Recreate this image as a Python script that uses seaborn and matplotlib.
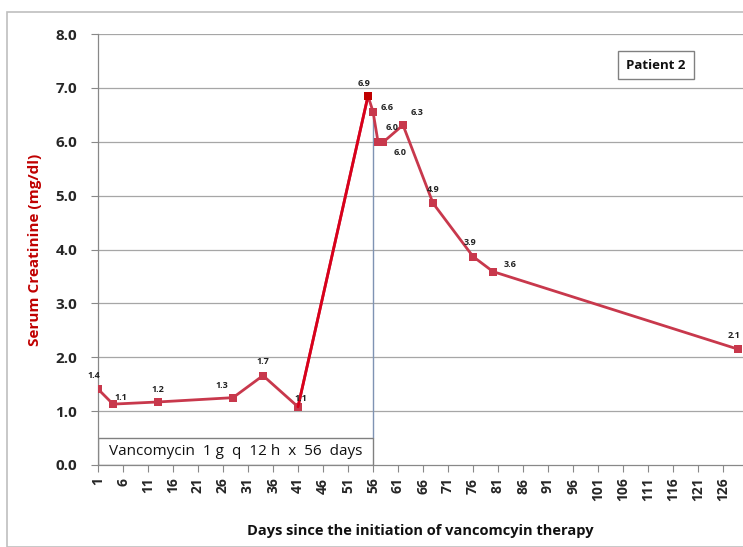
import matplotlib
matplotlib.use("Agg")
import matplotlib.pyplot as plt
import seaborn as sns
import pandas as pd
from matplotlib.patches import Rectangle

# data
days = [1, 4, 13, 28, 34, 41, 55, 56, 57, 58, 62, 68, 76, 80, 129]
creatinine = [1.41, 1.13, 1.17, 1.25, 1.66, 1.08, 6.85, 6.56, 6.0, 5.99, 6.31, 4.86, 3.87, 3.59, 2.15]
point_labels = ["1.4", "1.1", "1.2", "1.3", "1.7", "1.1", "6.9", "6.6", "6.0", "6.0",
                "6.3", "4.9", "3.9", "3.6", "2.1"]
# label offsets in points (dx, dy)
label_offsets = [(-3, 10), (6, 5), (0, 9), (-8, 9), (0, 10), (2, 6), (-3, 9), (10, 3),
                 (10, 10), (12, -7), (10, 9), (0, 10), (-2, 10), (12, 5), (-3, 10)]
x_ticks = list(range(1, 127, 5))
y_ticks = [0, 1, 2, 3, 4, 5, 6, 7, 8]
therapy_end = 56

df = pd.DataFrame({"day": days, "scr": creatinine})

sns.set_theme(style="white")
plt.rcParams["font.family"] = ["Open Sans", "DejaVu Sans"]

fig = plt.figure(figsize=(7.43, 5.47), dpi=100)
ax = fig.add_axes([98 / 743, 1 - 465 / 547, 1 - 98 / 743, (465 - 34) / 547])

# outer frame of the figure
fig.patches.append(Rectangle((7 / 743, 0.0), 1.0, 1 - 12 / 547, transform=fig.transFigure,
                             fill=False, edgecolor="#bfbfbf", linewidth=1.2, zorder=-1))

for yv in y_ticks[1:]:
    ax.axhline(yv, color="#a6a6a6", linewidth=0.9, zorder=0)

line_col = "#c8384c"
sns.lineplot(data=df, x="day", y="scr", ax=ax, color=line_col, linewidth=2,
             marker="s", markersize=6, markeredgewidth=0, markerfacecolor=line_col, zorder=3)
# steep rise drawn in brighter red
rise = df.iloc[5:7]
sns.lineplot(data=rise, x="day", y="scr", ax=ax, color="#d9001b", linewidth=2, zorder=4)
ax.plot(df.day.iloc[6], df.scr.iloc[6], marker="s", markersize=6, color="#c00000",
        markeredgewidth=0, zorder=5)

for d, v, t, (dx, dy) in zip(days, creatinine, point_labels, label_offsets):
    ax.annotate(t, (d, v), xytext=(dx, dy), textcoords="offset points", ha="center",
                va="center", fontsize=6.5, fontweight="bold", color="#222222", zorder=6)

# end of therapy marker
ax.plot([therapy_end, therapy_end], [0.5, 6.45], color="#7f93b3", linewidth=1, zorder=2)
ax.add_patch(Rectangle((1, 0), therapy_end - 1, 0.5, fill=True, facecolor="white",
                       edgecolor="#808080", linewidth=1, zorder=2))
ax.text((1 + therapy_end) / 2, 0.25, "Vancomycin  1 g  q  12 h  x  56  days", ha="center",
        va="center", fontsize=11, color="#111111", zorder=3)

ax.text(0.865, 0.928, "Patient 2", transform=ax.transAxes, ha="center", va="center",
        fontsize=9.5, fontweight="bold", color="#111111",
        bbox=dict(boxstyle="square,pad=0.6", facecolor="white", edgecolor="#808080", linewidth=1))

ax.set_xlim(1, 130)
ax.set_ylim(0, 8)
ax.set_xticks(x_ticks)
ax.set_xticklabels([str(t) for t in x_ticks], rotation=90, fontsize=10, fontweight="bold")
ax.set_yticks(y_ticks)
ax.set_yticklabels([f"{t:.1f}" for t in y_ticks], fontsize=11, fontweight="bold")
ax.tick_params(axis="both", length=5, width=0.8, color="#888888", direction="out",
               bottom=True, left=True, pad=4)
ax.tick_params(axis="y", pad=10)

for side in ["top", "right"]:
    ax.spines[side].set_visible(False)
for side in ["left", "bottom"]:
    ax.spines[side].set_color("#888888")
    ax.spines[side].set_linewidth(0.9)

ax.set_xlabel("Days since the initiation of vancomcyin therapy", fontsize=10.5,
              fontweight="bold", color="#111111", labelpad=16)
ax.set_ylabel("Serum Creatinine (mg/dl)", fontsize=11, fontweight="bold",
              color="#c00000", labelpad=10)

fig.savefig("out.png", dpi=100)
